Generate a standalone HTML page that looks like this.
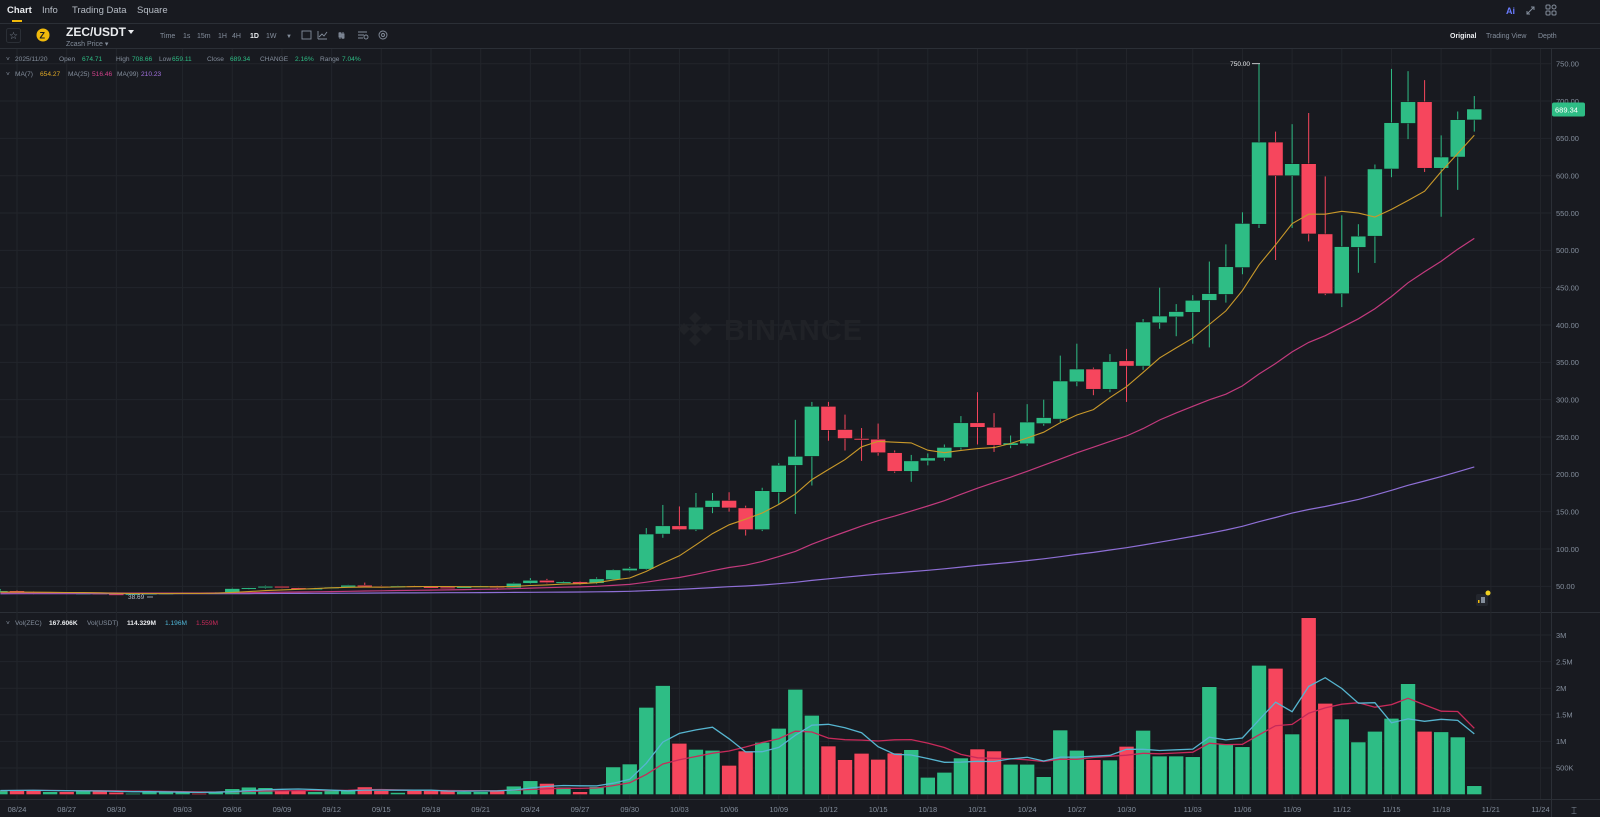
<!DOCTYPE html>
<html><head><meta charset="utf-8"><style>
html,body{margin:0;padding:0;background:#181a20;width:1600px;height:817px;overflow:hidden;font-family:"Liberation Sans",sans-serif}
svg{position:absolute;left:0;top:0}
</style></head><body>
<svg id="s" width="1600" height="817" xmlns="http://www.w3.org/2000/svg" font-family="Liberation Sans, sans-serif">
<rect width="1600" height="817" fill="#181a20"/>
<g id="grid"></g>
<g fill="#202227">
<polygon points="695,312 701,318 695,324 689,318"/>
<polygon points="684,323 690,329 684,335 678,329"/>
<polygon points="706,323 712,329 706,335 700,329"/>
<polygon points="695,323 701,329 695,335 689,329"/>
<polygon points="695,334 701,340 695,346 689,340"/>
<text x="724" y="340" font-size="29" font-weight="bold" letter-spacing="1">BINANCE</text>
</g>
<g id="plot"></g>
<line x1="0" y1="23.5" x2="1600" y2="23.5" stroke="#2b2f36"/>
<line x1="0" y1="48.5" x2="1600" y2="48.5" stroke="#2b2f36"/>
<text x="7" y="13" font-size="9.5" fill="#eaecef" font-weight="bold">Chart</text>
<rect x="12" y="20" width="10" height="2" fill="#f0b90b"/>
<text x="42" y="13" font-size="9.5" fill="#b7bdc6">Info</text>
<text x="72" y="13" font-size="9.5" fill="#b7bdc6">Trading Data</text>
<text x="137" y="13" font-size="9.5" fill="#b7bdc6">Square</text>
<text x="1506" y="14" font-size="9" fill="#6a7cff" font-weight="bold">Ai</text>
<path d="M1527 14 L1534 7 M1531 7 L1534 7 L1534 10 M1527 11 L1527 14 L1530 14" stroke="#848e9c" fill="none" stroke-width="1"/>
<g fill="none" stroke="#848e9c" stroke-width="1"><rect x="1546" y="5" width="4" height="4" rx="1"/><rect x="1552" y="5" width="4" height="4" rx="2"/><rect x="1546" y="11" width="4" height="4" rx="1"/><rect x="1552" y="11" width="4" height="4" rx="1"/></g>
<rect x="6.5" y="28.5" width="14" height="14" rx="2" fill="none" stroke="#2b2f36"/>
<text x="9" y="39" font-size="10" fill="#848e9c">☆</text>
<circle cx="43" cy="35" r="6.5" fill="#f0b90b"/>
<text x="39.5" y="38.5" font-size="9" fill="#181a20" font-weight="bold">Z</text>
<text x="66" y="36" font-size="12" fill="#eaecef" font-weight="bold">ZEC/USDT</text>
<polygon points="128,30 134,30 131,34" fill="#eaecef"/>
<text x="66" y="46" font-size="7" fill="#848e9c">Zcash Price ▾</text>
<g font-size="7" fill="#848e9c">
<text x="160" y="38">Time</text><text x="183" y="38">1s</text><text x="197" y="38">15m</text><text x="218" y="38">1H</text><text x="232" y="38">4H</text>
<text x="250" y="38" fill="#eaecef" font-weight="bold">1D</text><text x="266" y="38">1W</text><text x="286" y="38" font-size="6">▼</text>
</g>
<g stroke="#848e9c" fill="none" stroke-width="0.9">
<rect x="302" y="31" width="9" height="8"/><path d="M318 39 L318 31 M318 39 L327 39 M319 37 L322 34 L324 36 L327 32"/>
<path d="M340 32 L340 39 M343 32 L343 39"/><rect x="339" y="33" width="2" height="4"/><rect x="342" y="34" width="2" height="4"/>
<path d="M358 32 L367 32 M358 35 L364 35 M358 38 L363 38"/><circle cx="366" cy="37" r="2"/>
<circle cx="383" cy="35" r="4"/><circle cx="383" cy="35" r="1.5"/>
</g>
<text x="1450" y="38" font-size="7" fill="#eaecef" font-weight="bold">Original</text>
<text x="1486" y="38" font-size="7" fill="#848e9c">Trading View</text>
<text x="1538" y="38" font-size="7" fill="#848e9c">Depth</text>
<g font-size="6.6" fill="#848e9c">
<text x="6" y="61">˅</text>
<text x="15" y="61">2025/11/20</text><text x="59" y="61">Open</text><text x="82" y="61" fill="#2ebd85">674.71</text>
<text x="116" y="61">High</text><text x="132" y="61" fill="#2ebd85">708.66</text>
<text x="159" y="61">Low</text><text x="172" y="61" fill="#2ebd85">659.11</text>
<text x="207" y="61">Close</text><text x="230" y="61" fill="#2ebd85">689.34</text>
<text x="260" y="61">CHANGE</text><text x="295" y="61" fill="#2ebd85">2.16%</text>
<text x="320" y="61">Range</text><text x="342" y="61" fill="#2ebd85">7.04%</text>
<text x="6" y="76">˅</text>
<text x="15" y="76">MA(7)</text><text x="40" y="76" fill="#e0a926">654.27</text>
<text x="68" y="76">MA(25)</text><text x="92" y="76" fill="#d0418a">516.46</text>
<text x="117" y="76">MA(99)</text><text x="141" y="76" fill="#a371e0">210.23</text>
<text x="6" y="625">˅</text>
<text x="15" y="625">Vol(ZEC)</text><text x="49" y="625" fill="#eaecef" font-weight="bold">167.606K</text>
<text x="87" y="625">Vol(USDT)</text><text x="127" y="625" fill="#eaecef" font-weight="bold">114.329M</text>
<text x="165" y="625" fill="#4fb5d6">1.196M</text><text x="196" y="625" fill="#c72a5a">1.559M</text>
</g>
<g font-size="7.5" fill="#848e9c">
<text x="1556" y="66.5">750.00</text><text x="1556" y="103.8">700.00</text><text x="1556" y="141.2">650.00</text>
<text x="1556" y="178.5">600.00</text><text x="1556" y="215.8">550.00</text><text x="1556" y="253.2">500.00</text>
<text x="1556" y="290.5">450.00</text><text x="1556" y="327.8">400.00</text><text x="1556" y="365.2">350.00</text>
<text x="1556" y="402.5">300.00</text><text x="1556" y="439.8">250.00</text><text x="1556" y="477.2">200.00</text>
<text x="1556" y="514.5">150.00</text><text x="1556" y="551.8">100.00</text><text x="1556" y="589.2">50.00</text>
<text x="1556" y="638">3M</text><text x="1556" y="664.5">2.5M</text><text x="1556" y="691">2M</text>
<text x="1556" y="717.5">1.5M</text><text x="1556" y="744">1M</text><text x="1556" y="770.5">500K</text>
</g>
<rect x="1552" y="102.5" width="33" height="14" rx="2" fill="#2ebd85"/>
<text x="1555" y="112.5" font-size="7.5" fill="#ffffff">689.34</text>
<text x="1250" y="66" font-size="6.5" fill="#eaecef" text-anchor="end">750.00</text>
<line x1="1252" y1="63.7" x2="1260" y2="63.7" stroke="#eaecef" stroke-width="0.8"/>
<text x="128" y="599" font-size="6.5" fill="#b7bdc6">38.69</text>
<line x1="147" y1="597" x2="153" y2="597" stroke="#b7bdc6" stroke-width="0.8"/>
<rect x="1476" y="594" width="12" height="12" rx="2" fill="#23262d"/>
<rect x="1481" y="597" width="4" height="6" fill="#848e9c"/>
<rect x="1478" y="600" width="1.5" height="3" fill="#f0b90b"/>
<circle cx="1488" cy="593" r="2.5" fill="#f0d020"/>
<g id="dates" font-size="7.5" fill="#848e9c"></g>
<text x="1571" y="814" font-size="10" fill="#848e9c">⌶</text>
</svg>
<script>
var NS="http://www.w3.org/2000/svg";
function el(p,t,a){var e=document.createElementNS(NS,t);for(var k in a)e.setAttribute(k,a[k]);p.appendChild(e);return e;}
var X=function(d){return 17+16.56*d;};
var PY=function(p){return 63.7+(750-p)*0.7466;};
var VY=function(v){return 794.6-v*0.0532;};
var C=[[42,46,41,44],[44,45,41,42],[42,43,39.5,40.5],[40.5,42,40,41.5],[41.5,42,39,40],[40,41.5,39.5,41],[41,41.5,39,39.8],[39.8,40.5,38.69,39.5],[39.5,40.5,39,40.2],[40.2,41,39.5,40.6],[40.6,41.5,40,41],[41,41.8,40.5,41.4],[41.4,41.6,40.5,40.8],[40.8,42,40.5,41.6],[41.6,48,41,47],[47,48.5,45.5,48],[48,51,47,50],[50,50.5,47.5,48],[48,48.5,46,46.5],[46.5,48,46,47.5],[47.5,49.5,47,49],[49,52,48.5,51.5],[51.5,55,49.5,50],[50,51,48,49],[49,51,48.5,50.5],[50.5,51,49,49.5],[49.5,50.5,48.5,49],[49,50,48,48.5],[48.5,50,48,49.5],[49.5,51,48.5,50.5],[50.5,51,47,48],[48,55,47.5,54],[54,61,53,58],[58,60,54,55],[55,57,53.5,56],[56,57,52,53],[54,62,53,60],[59,73,58,72],[71,76,70,74],[73,128,72,120],[120,159,115,131],[131,157,125,126],[126,175,124,156],[156,175,148,165],[165,176,150,155],[155,158,118,126],[126,182,124,178],[176,215,160,212],[212,273,147,224],[224,297,185,291],[291,297,245,259],[260,280,232,248],[248,262,218,246],[247,268,225,229],[229,232,202,204],[204,226,190,218],[218,228,212,222],[222,240,218,236],[236,278,233,269],[269,310,240,263],[263,282,230,239],[239,252,235,242],[241,294,238,270],[268,300,265,276],[274,359,270,325],[324,375,318,341],[341,343,306,314],[314,361,310,351],[352,368,297,345],[345,408,340,404],[403,450,395,412],[411,428,385,418],[417,440,375,433],[433,485,370,442],[441,508,430,478],[477,551,468,536],[535,750,530,645],[645,659,487,600],[600,669,530,616],[616,684,512,522],[522,599,440,442],[442,547,424,505],[504,535,470,519],[519,615,483,609],[609,743,598,671],[670,740,649,699],[699,728,605,610],[610,654,545,625],[625,686,581,675],[674.7,706.7,659.1,689.3]];
var V=[86,86,86,55,55,70,75,45,24,55,55,45,24,45,110,140,130,75,75,55,75,75,145,75,40,75,75,75,55,55,86,160,260,210,140,55,150,520,575,1640,2050,964,850,833,550,820,983,1246,1979,1490,913,657,776,663,782,845,325,419,688,857,820,570,570,337,1214,833,657,650,907,1208,725,725,712,2028,951,900,2430,2374,1139,3325,1716,1421,989,1190,1434,2085,1190,1180,1083,167];
var g=document.getElementById('grid'),pl=document.getElementById('plot'),dt=document.getElementById('dates');
var GC="#22252b";
for(var p=50;p<=750;p+=50)el(g,'line',{x1:0,x2:1551,y1:PY(p),y2:PY(p),stroke:GC});
[500,1000,1500,2000,2500,3000].forEach(function(v){el(g,'line',{x1:0,x2:1551,y1:VY(v),y2:VY(v),stroke:GC});});
el(g,'line',{x1:0,x2:1600,y1:612.5,y2:612.5,stroke:"#2b2f36"});
el(g,'line',{x1:0,x2:1600,y1:799.5,y2:799.5,stroke:"#2b2f36"});
el(g,'line',{x1:1551.5,x2:1551.5,y1:49,y2:817,stroke:"#2b2f36"});
var D=[["08/24",0],["08/27",3],["08/30",6],["09/03",10],["09/06",13],["09/09",16],["09/12",19],["09/15",22],["09/18",25],["09/21",28],["09/24",31],["09/27",34],["09/30",37],["10/03",40],["10/06",43],["10/09",46],["10/12",49],["10/15",52],["10/18",55],["10/21",58],["10/24",61],["10/27",64],["10/30",67],["11/03",71],["11/06",74],["11/09",77],["11/12",80],["11/15",83],["11/18",86],["11/21",89],["11/24",92]];
D.forEach(function(d){var x=X(d[1]);el(g,'line',{x1:x,x2:x,y1:49,y2:799,stroke:GC});var t=el(dt,'text',{x:x,y:812,'text-anchor':'middle'});t.textContent=d[0];});
var GR="#2ebd85",RD="#f6465d";
var cp=el(pl,'clipPath',{id:'cp'});el(cp,'rect',{x:0,y:49,width:1551,height:750});
var G=el(pl,'g',{'clip-path':'url(#cp)'});
for(var i=0;i<C.length;i++){var d=i-1,c=C[i],x=X(d),up=c[3]>=c[0],col=up?GR:RD;
 el(G,'line',{x1:x,x2:x,y1:PY(c[1]),y2:PY(c[2]),stroke:col,'stroke-width':1});
 var t=PY(Math.max(c[0],c[3])),b=PY(Math.min(c[0],c[3]));if(b-t<1.5){b=t+1.5;}
 el(G,'rect',{x:x-7.5,y:t,width:15,height:b-t,fill:col,stroke:'#15171b','stroke-width':0.5});
 var vy=VY(V[i]);el(G,'rect',{x:x-7.5,y:vy,width:15,height:794.6-vy,fill:col,stroke:'#15171b','stroke-width':0.6});
}
function ma(arr,n,pre){var out=[];for(var i=0;i<arr.length;i++){var s=0;for(var k=i-n+1;k<=i;k++)s+=(k>=0?arr[k]:pre);out.push(s/n);}return out;}
var cl=C.map(function(c){return c[3];});
function line(vals,fy,col,w){var d="";for(var i=0;i<vals.length;i++){d+=(i?"L":"M")+X(i-1).toFixed(1)+" "+fy(vals[i]).toFixed(1);}el(G,'path',{d:d,fill:'none',stroke:col,'stroke-width':w});}
line(ma(cl,99,40),PY,"#8e6fd6",1.2);
line(ma(cl,25,41),PY,"#c23a7d",1.2);
line(ma(cl,7,42),PY,"#c9992a",1.1);
line(ma(V,10,75),VY,"#c72a5a",1.3);
line(ma(V,5,75),VY,"#56b5d0",1.3);
</script>
</body></html>
